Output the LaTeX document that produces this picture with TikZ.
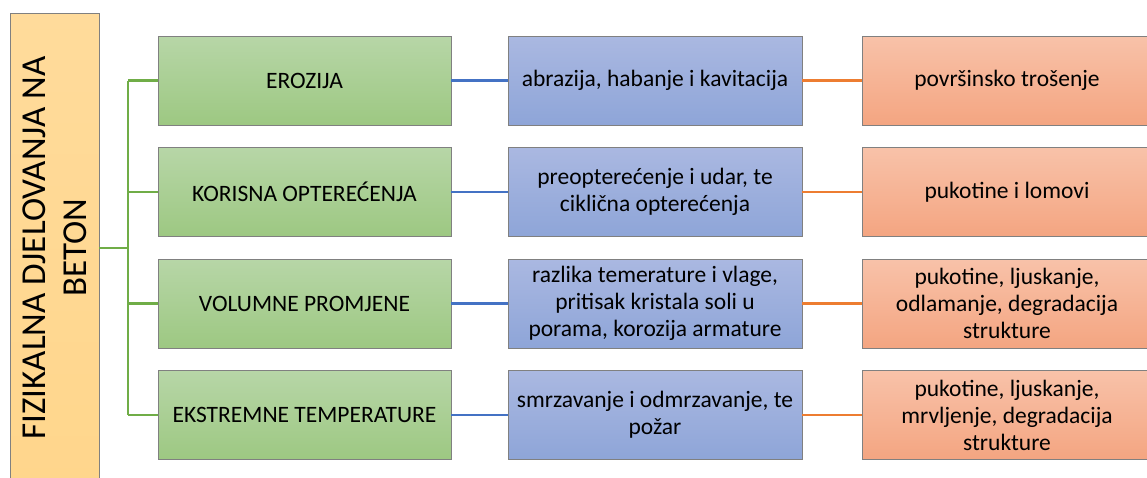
\documentclass[tikz,border=0pt]{standalone}
\usepackage{fontspec}
\setmainfont{Carlito}
\definecolor{gtop}{RGB}{183,214,167}
\definecolor{gbot}{RGB}{157,200,130}
\definecolor{btop}{RGB}{170,184,225}
\definecolor{bbot}{RGB}{142,165,216}
\definecolor{otop}{RGB}{248,194,169}
\definecolor{obot}{RGB}{244,165,129}
\definecolor{ytop}{RGB}{255,219,155}
\definecolor{ybot}{RGB}{255,214,140}
\definecolor{gline}{RGB}{112,173,71}
\definecolor{bline}{RGB}{68,114,196}
\definecolor{oline}{RGB}{237,125,49}
\definecolor{bordergray}{RGB}{128,128,128}
\tikzset{
  boxbase/.style={draw=bordergray, line width=0.9pt, minimum height=89pt, align=center, font=\fontsize{23.5}{27}\selectfont, inner sep=2pt},
  greenbox/.style={boxbase, top color=gtop, bottom color=gbot, minimum width=293pt},
  bluebox/.style={boxbase, top color=btop, bottom color=bbot, minimum width=294pt},
  orangebox/.style={boxbase, top color=otop, bottom color=obot, minimum width=290pt},
  leftbox/.style={draw=bordergray, line width=0.9pt, top color=ytop, bottom color=ybot, minimum width=89pt, minimum height=470pt},
  gconn/.style={draw=gline, line width=2.2pt},
  bconn/.style={draw=bline, line width=2.2pt},
  oconn/.style={draw=oline, line width=2.2pt}
}
\begin{document}
\begin{tikzpicture}[x=1pt,y=-1pt]
\clip (0,0) rectangle (1147,477);
\fill[white] (0,0) rectangle (1147,477);
\node[leftbox] (l) at (54.5,248) {};
\node[rotate=90, align=center, font=\fontsize{35}{41}\selectfont] (lt) at (55,248) {FIZIKALNA DJELOVANJA NA\\BETON};
\coordinate (j) at (128,248);
\node[greenbox] (g1) at (304.5,80.5) {EROZIJA};
\node[greenbox] (g2) at (304.5,192) {KORISNA OPTEREĆENJA};
\node[greenbox] (g3) at (304.5,303.5) {VOLUMNE PROMJENE};
\node[greenbox] (g4) at (304.5,415) {EKSTREMNE TEMPERATURE};
\node[bluebox] (b1) at (655,80.5) {abrazija, habanje i kavitacija};
\node[bluebox] (b2) at (655,192) {preopterećenje i udar, te\\ciklična opterećenja};
\node[bluebox] (b3) at (655,303.5) {razlika temerature i vlage,\\pritisak kristala soli u\\porama, korozija armature};
\node[bluebox] (b4) at (655,415) {smrzavanje i odmrzavanje, te\\požar};
\node[orangebox] (o1) at (1007,80.5) {površinsko trošenje};
\node[orangebox] (o2) at (1007,192) {pukotine i lomovi};
\node[orangebox] (o3) at (1007,303.5) {pukotine, ljuskanje,\\odlamanje, degradacija\\strukture};
\node[orangebox] (o4) at (1007,415) {pukotine, ljuskanje,\\mrvljenje, degradacija\\strukture};
\draw[gconn] (l.east |- j) -- (j);
\draw[gconn] (j |- g1.west) -- (j |- g4.west);
\foreach \k in {1,2,3,4}{
  \draw[gconn] (j |- g\k.west) -- (g\k.west);
  \draw[bconn] (g\k.east) -- (b\k.west);
  \draw[oconn] (b\k.east) -- (o\k.west);
}
\end{tikzpicture}
\end{document}
